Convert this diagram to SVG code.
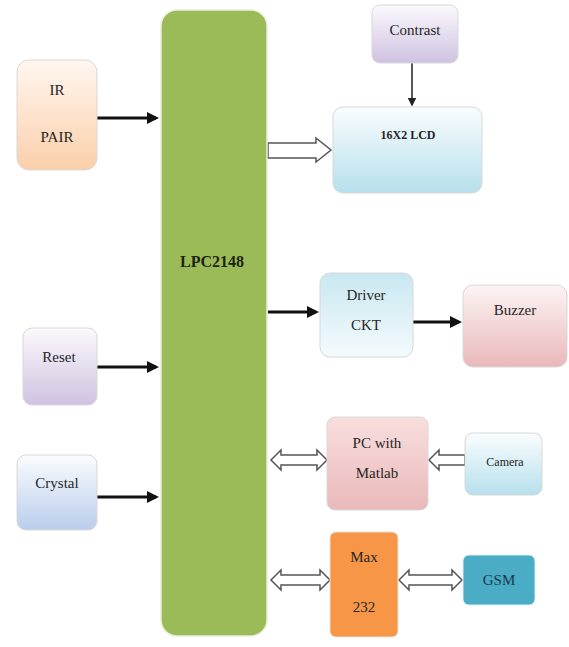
<svg xmlns="http://www.w3.org/2000/svg" width="569" height="647" viewBox="0 0 569 647">
<style>
text{font-family:"Liberation Serif","Times New Roman",serif;font-size:15px;fill:#262626;text-anchor:middle;dominant-baseline:central}
.b{stroke:#d8d8d8;stroke-width:1}
.line{stroke:#111;stroke-width:3;fill:none}
.thin{stroke:#222;stroke-width:1.5;fill:none}
.hollow{fill:#fff;stroke:#555;stroke-width:1.5;stroke-linejoin:miter}
</style>
<defs>
<marker id="ah" markerWidth="4" markerHeight="4" refX="3" refY="2" orient="auto" markerUnits="strokeWidth"><path d="M0,0 L4,2 L0,4 z" fill="#111"/></marker>
<marker id="ah2" markerWidth="6" markerHeight="6" refX="5" refY="3" orient="auto" markerUnits="strokeWidth"><path d="M0,0 L6,3 L0,6 z" fill="#222"/></marker>
<linearGradient id="gPeach" x1="0" y1="0" x2="0" y2="1"><stop offset="0" stop-color="#fff7f0"/><stop offset="1" stop-color="#fbcfaa"/></linearGradient>
<linearGradient id="gPurple" x1="0" y1="0" x2="0" y2="1"><stop offset="0" stop-color="#fbf9fd"/><stop offset="1" stop-color="#cfc2e0"/></linearGradient>
<linearGradient id="gBlue" x1="0" y1="0" x2="0" y2="1"><stop offset="0" stop-color="#fafdfe"/><stop offset="1" stop-color="#b6e0ec"/></linearGradient>
<linearGradient id="gBlueTop" x1="0" y1="0" x2="0" y2="1"><stop offset="0" stop-color="#c9e7f1"/><stop offset="1" stop-color="#f4fbfd"/></linearGradient>
<linearGradient id="gPink" x1="0" y1="0" x2="0" y2="1"><stop offset="0" stop-color="#fdf4f4"/><stop offset="1" stop-color="#e9b8b9"/></linearGradient>
<linearGradient id="gPink2" x1="0" y1="0" x2="0" y2="1"><stop offset="0" stop-color="#f8dede"/><stop offset="1" stop-color="#eab9ba"/></linearGradient>
<linearGradient id="gCrystal" x1="0" y1="0" x2="0" y2="1"><stop offset="0" stop-color="#fbfcfe"/><stop offset="1" stop-color="#b9cdeb"/></linearGradient>
</defs>

<g id="connectors">
<line class="line" x1="97" y1="118" x2="156" y2="118" marker-end="url(#ah)"/>
<line class="line" x1="97" y1="367" x2="156" y2="367" marker-end="url(#ah)"/>
<line class="line" x1="97" y1="497" x2="156" y2="497" marker-end="url(#ah)"/>
<line class="line" x1="268" y1="312" x2="316" y2="312" marker-end="url(#ah)"/>
<line class="line" x1="413" y1="322" x2="459" y2="322" marker-end="url(#ah)"/>
<line class="thin" x1="412" y1="63" x2="412" y2="105" marker-end="url(#ah2)"/>
<polygon class="hollow" points="268,143 316,143 316,138 331,150 316,162 316,158 268,158"/>
<polygon class="hollow" points="271,460 281,450 281,455 317,455 317,450 327,460 317,470 317,465 281,465 281,470"/>
<polygon class="hollow" points="429,460 439,450 439,455 465,455 465,465 439,465 439,470"/>
<polygon class="hollow" points="271,580 281,570 281,575 320,575 320,570 330,580 320,590 320,585 281,585 281,590"/>
<polygon class="hollow" points="399,580 409,570 409,575 452,575 452,570 462,580 452,590 452,585 409,585 409,590"/>
</g>

<g id="lpc2148">
<rect x="161" y="10" width="106" height="626" rx="16" fill="#9bbb59" stroke="#e8efd9" stroke-width="1.5"/>
<text x="212" y="261" style="font-weight:bold;font-size:16px;fill:#1c2410">LPC2148</text>
</g>

<g id="ir-pair">
<rect class="b" x="17" y="60" width="80" height="110" rx="12" fill="url(#gPeach)"/>
<text x="57" y="90">IR</text>
<text x="57" y="137">PAIR</text>
</g>

<g id="reset">
<rect class="b" x="23" y="328" width="74" height="77" rx="9" fill="url(#gPurple)"/>
<text x="59" y="357">Reset</text>
</g>

<g id="crystal">
<rect class="b" x="17" y="455" width="80" height="75" rx="9" fill="url(#gCrystal)"/>
<text x="57" y="483">Crystal</text>
</g>

<g id="contrast">
<rect class="b" x="372" y="5" width="86" height="58" rx="8" fill="url(#gPurple)"/>
<text x="415" y="30">Contrast</text>
</g>

<g id="lcd">
<rect class="b" x="333" y="107" width="149" height="86" rx="10" fill="url(#gBlue)"/>
<text x="408" y="135" style="font-weight:bold;font-size:12px">16X2 LCD</text>
</g>

<g id="driver-ckt">
<rect class="b" x="320" y="273" width="93" height="84" rx="10" fill="url(#gBlueTop)"/>
<text x="366" y="295">Driver</text>
<text x="366" y="325">CKT</text>
</g>

<g id="buzzer">
<rect class="b" x="463" y="285" width="104" height="82" rx="10" fill="url(#gPink)"/>
<text x="515" y="310">Buzzer</text>
</g>

<g id="pc-matlab">
<rect class="b" x="327" y="417" width="101" height="93" rx="8" fill="url(#gPink2)"/>
<text x="377" y="443">PC with</text>
<text x="377" y="473">Matlab</text>
</g>

<g id="camera">
<rect class="b" x="465" y="433" width="77" height="62" rx="8" fill="url(#gBlue)"/>
<text x="505" y="462" style="font-size:12px">Camera</text>
</g>

<g id="max232">
<rect x="330" y="532" width="68" height="105" rx="6" fill="#f79646" stroke="#e9e0d6"/>
<text x="364" y="557">Max</text>
<text x="364" y="607">232</text>
</g>

<g id="gsm">
<rect x="463" y="555" width="72" height="50" rx="6" fill="#4bacc6" stroke="#d7eef4"/>
<text x="499" y="580" style="fill:#17394a">GSM</text>
</g>
</svg>
